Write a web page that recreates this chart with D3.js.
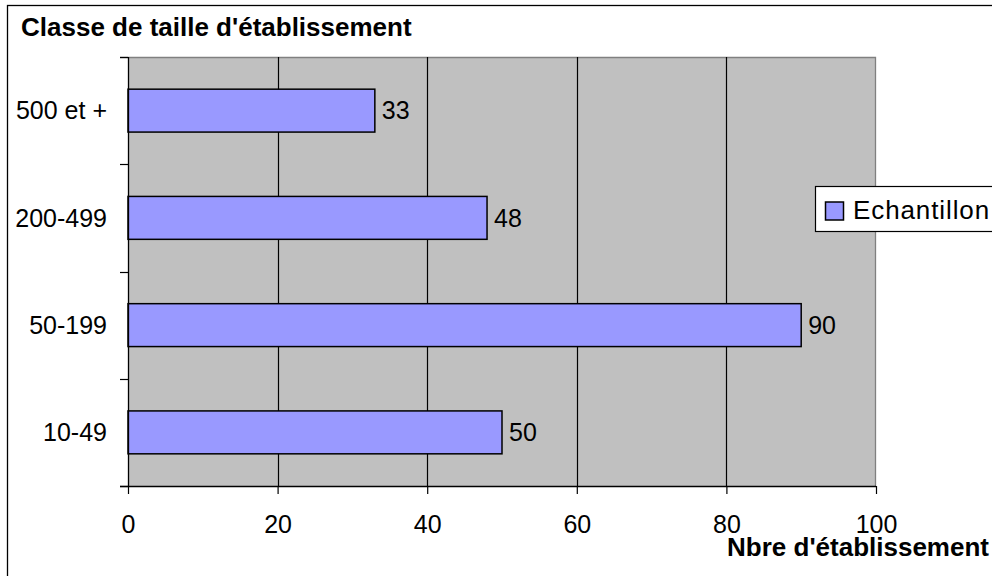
<!DOCTYPE html>
<html><head><meta charset="utf-8">
<script src="https://cdn.jsdelivr.net/npm/d3@7"></script>
<style>body{margin:0;background:#fff}svg{display:block;font-family:"Liberation Sans",Arial,sans-serif}</style>
</head><body>
<script>
const categories = ["10-49", "50-199", "200-499", "500 et +"];
const values = [50, 90, 48, 33];
const xTicks = [0, 20, 40, 60, 80, 100];
const seriesName = "Echantillon";
const title = "Classe de taille d'établissement";
const xTitle = "Nbre d'établissement";

const W = 992, H = 576;
const svg = d3.select("body").append("svg").attr("width", W).attr("height", H);
const m = {left:128, top:57, right:876, bottom:486};

svg.append("rect").attr("x",7.5).attr("y",5.5).attr("width",1100).attr("height",700)
  .attr("fill","#fff").attr("stroke","#000").attr("stroke-width",1.3);

const x = d3.scaleLinear().domain([0,100]).range([m.left, m.right]);
const y = d3.scaleBand().domain(categories.slice().reverse()).range([m.top, m.bottom])
  .paddingInner(0.6).paddingOuter(0.3);

// plot area
svg.append("rect").attr("x",m.left).attr("y",m.top).attr("width",m.right-m.left).attr("height",m.bottom-m.top)
  .attr("fill","#C0C0C0");
svg.append("path").attr("d",`M${m.left-8},${m.top+0.5}H${m.right-0.5}V${m.bottom}`)
  .attr("fill","none").attr("stroke","#808080").attr("stroke-width",1.3);

// gridlines
svg.append("g").selectAll("line").data(xTicks.filter(d=>d>0&&d<100)).join("line")
  .attr("x1",d=>Math.round(x(d))+0.5).attr("x2",d=>Math.round(x(d))+0.5)
  .attr("y1",m.top).attr("y2",m.bottom).attr("stroke","#000").attr("stroke-width",1.2);

// bars
svg.append("g").selectAll("rect").data(categories).join("rect")
  .attr("x",x(0)).attr("y",(d)=>y(d))
  .attr("width",(d,i)=>x(values[i])-x(0)).attr("height",y.bandwidth())
  .attr("fill","#9999FF").attr("stroke","#000").attr("stroke-width",1.5);

// value labels
svg.append("g").selectAll("text").data(categories).join("text")
  .attr("x",(d,i)=>x(values[i])+7).attr("y",d=>y(d)+y.bandwidth()/2)
  .attr("dy","0.35em").attr("font-size",25).attr("fill","#000")
  .text((d,i)=>values[i]);

// x axis
const xAxis = d3.axisBottom(x).tickValues(xTicks).tickSize(8).tickPadding(21);
const gx = svg.append("g").attr("transform",`translate(0,${m.bottom})`).call(xAxis);
gx.select(".domain").remove();
gx.append("line").attr("x1",m.left-8).attr("x2",m.right).attr("y1",0.5).attr("y2",0.5).attr("stroke","#000").attr("stroke-width",1.3);
gx.selectAll(".tick line").attr("stroke","#000").attr("stroke-width",1.2);
gx.selectAll(".tick text").attr("font-size",25).attr("font-family","Liberation Sans, Arial, sans-serif").attr("fill","#000");

// y axis
const gy = svg.append("g");
gy.append("line").attr("x1",m.left+0.5).attr("x2",m.left+0.5).attr("y1",m.top).attr("y2",m.bottom).attr("stroke","#000").attr("stroke-width",1.3);
const bounds = d3.range(categories.length+1).map(i=>m.top + i*(m.bottom-m.top)/categories.length);
gy.selectAll("line.t").data(bounds).join("line").attr("class","t")
  .attr("x1",m.left-8).attr("x2",m.left).attr("y1",d=>Math.round(d)+0.5).attr("y2",d=>Math.round(d)+0.5)
  .attr("stroke","#000").attr("stroke-width",1.2);
gy.selectAll("text").data(categories).join("text")
  .attr("x",107).attr("y",d=>y(d)+y.bandwidth()/2).attr("dy","0.35em")
  .attr("text-anchor","end").attr("font-size",25).attr("fill","#000").text(d=>d);

// titles
svg.append("text").attr("x",21).attr("y",36).attr("font-size",26).attr("font-weight","bold").text(title);
svg.append("text").attr("x",989).attr("y",556).attr("text-anchor","end").attr("font-size",26).attr("font-weight","bold").text(xTitle);

// legend
const lg = svg.append("g");
lg.append("rect").attr("x",815.5).attr("y",186.5).attr("width",300).attr("height",45)
  .attr("fill","#fff").attr("stroke","#000").attr("stroke-width",1.2);
lg.append("rect").attr("x",825.5).attr("y",202).attr("width",18).attr("height",18)
  .attr("fill","#9999FF").attr("stroke","#000").attr("stroke-width",1.5);
lg.append("text").attr("x",853).attr("y",219).attr("font-size",26).attr("letter-spacing",0.9).text(seriesName);
</script>
</body></html>
